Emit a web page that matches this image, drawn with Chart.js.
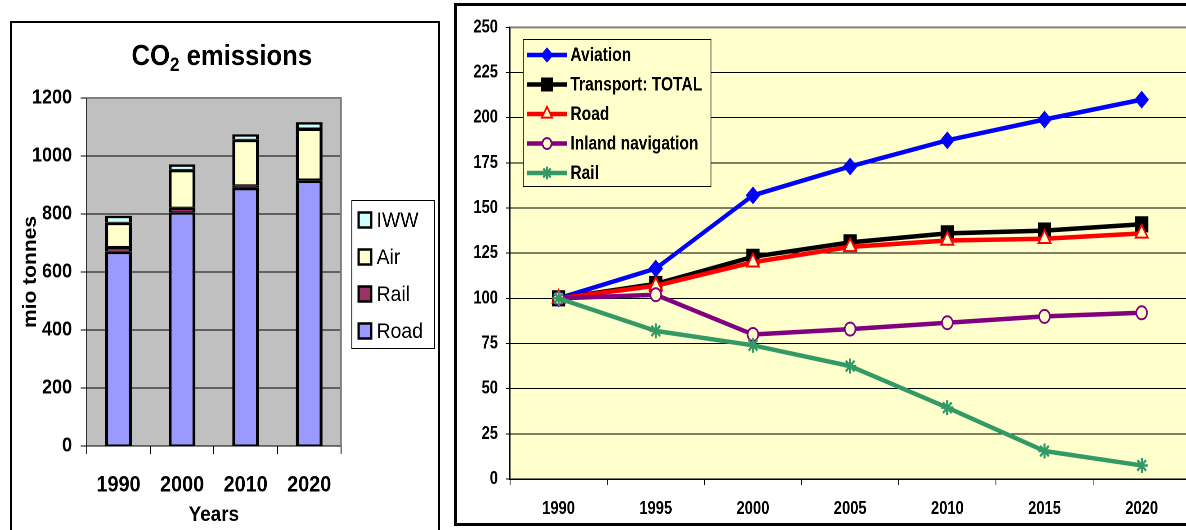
<!DOCTYPE html>
<html>
<head>
<meta charset="utf-8">
<script src="https://cdn.jsdelivr.net/npm/chart.js@4.4.1/dist/chart.umd.min.js"></script>
<style>
  html, body { margin: 0; padding: 0; background: #fff; width: 1186px; height: 530px; overflow: hidden; position: relative; }
  .frame { position: absolute; box-sizing: border-box; border: 2px solid #000; }
  #frameL { left: 10px; top: 21px; width: 430px; height: 540px; }
  #frameR { left: 454px; top: 3px; width: 760px; height: 523px; border-width: 3px; }
  .squeeze { position: absolute; transform-origin: 0 0; }
  #wrapL { left: 13px; top: 24px; transform: scaleX(0.9); }
  #wrapR { left: 458px; top: 7px; transform: scaleX(0.82); }
  canvas { display: block; }
</style>
</head>
<body>
<div class="frame" id="frameL"></div>
<div class="frame" id="frameR"></div>
<div class="squeeze" id="wrapL"><canvas id="co2" width="471" height="506"></canvas></div>
<div class="squeeze" id="wrapR"><canvas id="index" width="905" height="516"></canvas></div>
<script>
// CO2 emissions by mode, million tonnes
const years = ['1990', '2000', '2010', '2020'];
const road = [670, 806, 890, 915];
const rail = [16, 16, 9, 4];
const air = [84, 130, 157, 176];
const iww = [24, 19, 19, 22];

// Emission index, 1990 = 100
const indexYears = ['1990', '1995', '2000', '2005', '2010', '2015', '2020'];
const aviation = [100, 116.5, 157, 173, 187.5, 199, 210];
const transportTotal = [100, 108, 123, 131, 136, 137.5, 141];
const roadIndex = [100, 107, 120, 128.5, 132, 133, 136];
const inlandNav = [100, 102, 80, 83, 86.5, 90, 92];
const railIndex = [100, 82, 74, 62.5, 39.5, 15.5, 7.5];

const FONT = "'Liberation Sans', Arial, Helvetica, sans-serif";
Chart.defaults.font.family = FONT;
Chart.defaults.color = '#000';
Chart.defaults.animation = false;

// Plot-area background and the grey frame on its top and right edges
const plotFrame = {
  id: 'plotFrame',
  beforeDraw(chart, args, o) {
    const { ctx, chartArea: a } = chart;
    ctx.save();
    ctx.fillStyle = o.fill;
    ctx.fillRect(a.left, a.top, a.right - a.left, a.bottom - a.top);
    ctx.restore();
  },
  beforeDatasetsDraw(chart, args, o) {
    const { ctx, chartArea: a } = chart;
    ctx.save();
    ctx.strokeStyle = o.stroke;
    ctx.lineWidth = o.width;
    ctx.beginPath();
    ctx.moveTo(a.left, a.top);
    ctx.lineTo(a.right, a.top);
    ctx.lineTo(a.right, a.bottom);
    ctx.stroke();
    ctx.restore();
  }
};

// Title with a subscript digit
const subTitle = {
  id: 'subTitle',
  afterDraw(chart, args, o) {
    const ctx = chart.ctx;
    ctx.save();
    ctx.fillStyle = '#000';
    ctx.textBaseline = 'alphabetic';
    ctx.textAlign = 'left';
    const big = `bold ${o.size}px ${FONT}`;
    const small = `bold ${o.subSize}px ${FONT}`;
    ctx.font = big;
    const w1 = ctx.measureText(o.main).width;
    const w3 = ctx.measureText(o.rest).width;
    ctx.font = small;
    const w2 = ctx.measureText(o.sub).width;
    let x = o.x - (w1 + w2 + w3) / 2;
    ctx.font = big; ctx.fillText(o.main, x, o.y); x += w1;
    ctx.font = small; ctx.fillText(o.sub, x, o.y + o.subShift); x += w2;
    ctx.font = big; ctx.fillText(o.rest, x, o.y);
    ctx.restore();
  }
};

// Boxed legend with colour swatches, top of the stack listed first
const boxLegend = {
  id: 'boxLegend',
  afterDraw(chart, args, o) {
    const ctx = chart.ctx;
    ctx.save();
    ctx.fillStyle = '#fff';
    ctx.fillRect(o.left, o.top, o.width, o.height);
    ctx.strokeStyle = '#000';
    ctx.lineWidth = 1;
    ctx.strokeRect(o.left + 0.5, o.top + 0.5, o.width, o.height);
    ctx.font = `${o.fontSize}px ${FONT}`;
    ctx.textBaseline = 'middle';
    ctx.textAlign = 'left';
    chart.data.datasets.slice().reverse().forEach((ds, i) => {
      const y = o.firstY + i * o.step;
      ctx.fillStyle = ds.backgroundColor;
      ctx.fillRect(o.swatchX, y - o.swatchH / 2, o.swatchW, o.swatchH);
      ctx.lineWidth = 2.5;
      ctx.strokeStyle = '#000';
      ctx.strokeRect(o.swatchX, y - o.swatchH / 2, o.swatchW, o.swatchH);
      ctx.fillStyle = '#000';
      ctx.fillText(ds.label, o.textX, y + 1);
    });
    ctx.restore();
  }
};

// Boxed legend with line and marker samples
const lineLegend = {
  id: 'lineLegend',
  afterDraw(chart, args, o) {
    const ctx = chart.ctx;
    ctx.save();
    ctx.fillStyle = o.fill;
    ctx.fillRect(o.left, o.top, o.width, o.height);
    ctx.strokeStyle = '#000';
    ctx.lineWidth = 1;
    ctx.strokeRect(o.left + 0.5, o.top + 0.5, o.width, o.height);
    ctx.font = `bold ${o.fontSize}px ${FONT}`;
    ctx.textBaseline = 'middle';
    ctx.textAlign = 'left';
    chart.data.datasets.forEach((ds, i) => {
      const y = o.firstY + i * o.step;
      ctx.strokeStyle = ds.borderColor;
      ctx.lineWidth = ds.borderWidth;
      ctx.beginPath();
      ctx.moveTo(o.lineX1, y);
      ctx.lineTo(o.lineX2, y);
      ctx.stroke();
      ctx.fillStyle = ds.pointBackgroundColor;
      ctx.strokeStyle = ds.pointBorderColor;
      ctx.lineWidth = ds.pointBorderWidth;
      Chart.helpers.drawPoint(ctx, {
        pointStyle: ds.pointStyle, radius: ds.pointRadius * 0.85, rotation: 0, borderWidth: ds.pointBorderWidth
      }, (o.lineX1 + o.lineX2) / 2, y);
      ctx.fillStyle = '#000';
      ctx.fillText(ds.label, o.textX, y + 1);
    });
    ctx.restore();
  }
};

const barStyle = {
  borderColor: '#000',
  borderWidth: { top: 2.5, bottom: 1, left: 3.3, right: 3.3 },
  borderSkipped: false,
  barPercentage: 0.42,
  categoryPercentage: 1
};

new Chart(document.getElementById('co2'), {
  type: 'bar',
  data: {
    labels: years,
    datasets: [
      { label: 'Road', data: road, backgroundColor: '#9999FF', ...barStyle },
      { label: 'Rail', data: rail, backgroundColor: '#993366', ...barStyle },
      { label: 'Air', data: air, backgroundColor: '#FFFFCC', ...barStyle },
      { label: 'IWW', data: iww, backgroundColor: '#CCFFFF', ...barStyle }
    ]
  },
  options: {
    responsive: false,
    devicePixelRatio: 2,
    animation: false,
    layout: { padding: { left: 3, right: 106.6, top: 74, bottom: 0 } },
    plugins: {
      legend: { display: false },
      tooltip: { enabled: false },
      plotFrame: { fill: '#C0C0C0', stroke: '#808080', width: 2 },
      subTitle: { main: 'CO', sub: '2', rest: ' emissions', x: 232, y: 41, size: 28.5, subSize: 19, subShift: 6 },
      boxLegend: { left: 376, top: 176, width: 92, height: 148, firstY: 196, step: 37,
                   swatchX: 384, swatchW: 14, swatchH: 15, textX: 404, fontSize: 21.5 }
    },
    scales: {
      x: {
        stacked: true,
        grid: { offset: true, drawOnChartArea: false, tickLength: 8, color: '#000' },
        border: { color: '#000', width: 1 },
        ticks: { font: { size: 22, weight: 'bold' }, padding: 18, color: '#000' },
        title: { display: true, text: 'Years', font: { size: 21, weight: 'bold' }, padding: { top: 0, bottom: 2 }, color: '#000' },
        afterFit(s) { s.height = 84; }
      },
      y: {
        stacked: true, min: 0, max: 1200,
        ticks: { stepSize: 200, format: { useGrouping: false }, font: { size: 20, weight: 'bold' }, padding: 9.6, color: '#000' },
        grid: { color: '#000', tickLength: 6.7 },
        border: { color: '#000', width: 1 },
        title: { display: true, text: 'mio tonnes', font: { size: 21, weight: 'bold' }, padding: { top: 4, bottom: 0 }, color: '#000' },
        afterFit(s) { s.width = 78.9; }
      }
    }
  },
  plugins: [plotFrame, subTitle, boxLegend]
});

const PLOT_BG = '#FFFFCC';
function series(label, data, color, style, radius, fill, borderW, order) {
  return {
    label, data, order,
    borderColor: color, borderWidth: 4.5, fill: false, tension: 0,
    pointStyle: style, pointRadius: radius, pointHoverRadius: radius,
    pointBackgroundColor: fill, pointBorderColor: color, pointBorderWidth: borderW
  };
}

new Chart(document.getElementById('index'), {
  type: 'line',
  data: {
    labels: indexYears,
    datasets: [
      series('Aviation', aviation, '#0000FF', 'rectRot', 7.5, '#0000FF', 2, 5),
      series('Transport: TOTAL', transportTotal, '#000000', 'rect', 10, '#000000', 2, 4),
      series('Road', roadIndex, '#FF0000', 'triangle', 8.5, PLOT_BG, 2, 3),
      series('Inland navigation', inlandNav, '#800080', 'circle', 6.5, PLOT_BG, 2, 2),
      series('Rail', railIndex, '#339966', 'star', 7.5, '#339966', 2.5, 1)
    ]
  },
  options: {
    responsive: false,
    devicePixelRatio: 2,
    animation: false,
    layout: { padding: { left: 0, right: 10, top: 18, bottom: 0 } },
    plugins: {
      legend: { display: false },
      tooltip: { enabled: false },
      plotFrame: { fill: PLOT_BG, stroke: '#808080', width: 2 },
      lineLegend: { fill: PLOT_BG, left: 79, top: 32, width: 229, height: 147, firstY: 48, step: 29.5,
                    lineX1: 84, lineX2: 133, textX: 137, fontSize: 19 }
    },
    scales: {
      x: {
        offset: true,
        grid: { offset: true, drawOnChartArea: false, tickLength: 6, color: '#000' },
        border: { color: '#000', width: 1.5 },
        ticks: { font: { size: 18, weight: 'bold' }, padding: 13, color: '#000' },
        afterFit(s) { s.height = 44; }
      },
      y: {
        min: 0, max: 250,
        ticks: { stepSize: 25, font: { size: 18, weight: 'bold' }, padding: 9.6, color: '#000' },
        grid: { color: '#000', tickLength: 5 },
        border: { color: '#000', width: 1.5 },
        afterFit(s) { s.width = 63.4; }
      }
    }
  },
  plugins: [plotFrame, lineLegend]
});
</script>
</body>
</html>
